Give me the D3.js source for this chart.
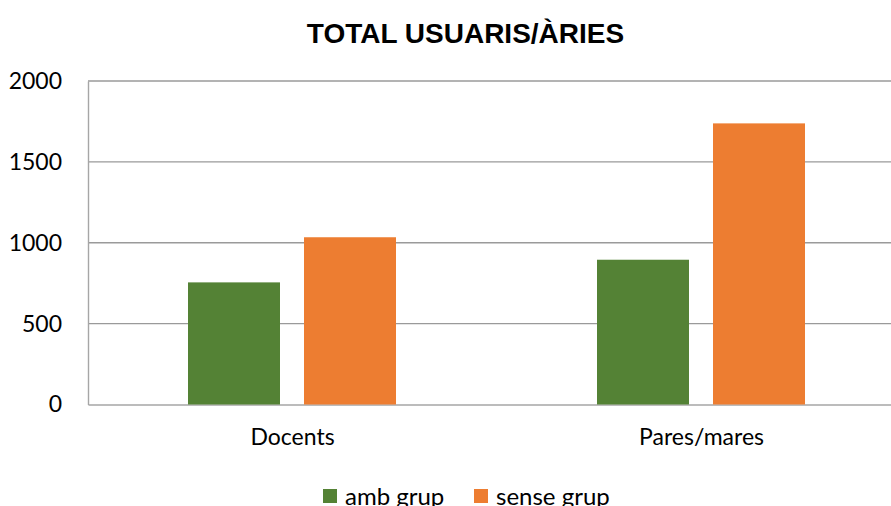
<!DOCTYPE html>
<html lang="ca">
<head>
	<meta charset="UTF-8" />
	<title>Total usuaris/àries</title>
	<script src="https://cdn.jsdelivr.net/npm/d3@7/dist/d3.min.js"></script>
	<style>
		body { margin: 0; background: #fff; }
		svg { display: block; }
	</style>
</head>
<body>
	<svg id="vis" width="891" height="506"></svg>
	<script>
		// Dades
		var categories = ["Docents", "Pares/mares"];
		var series = ["amb grup", "sense grup"];
		var ambGrup = [755, 895];
		var senseGrup = [1034, 1738];
		var yTicks = [0, 500, 1000, 1500, 2000];
		var colors = ["#548235", "#ED7D31"];

		var svg = d3.select("#vis");
		var plotLeft = 88, plotRight = 906, plotTop = 81, plotBottom = 404.5;

		// Echelles
		var x0 = d3.scaleBand().domain(categories).range([plotLeft, plotRight]);
		var x1 = d3.scaleBand().domain(series).range([0, 208]).paddingInner(0.207);
		var y = d3.scaleLinear().domain([0, 2000]).range([plotBottom, plotTop]);

		// Titre
		svg.append("text")
			.attr("x", 465.5)
			.attr("y", 43)
			.attr("text-anchor", "middle")
			.style("font-family", "Liberation Sans, Arial, sans-serif")
			.style("font-weight", "bold")
			.style("font-size", "28px")
			.text("TOTAL USUARIS/ÀRIES");

		// Grille
		svg.append("g").selectAll("line")
			.data(yTicks.slice(1))
			.join("line")
			.attr("x1", plotLeft).attr("x2", plotRight)
			.attr("y1", function(d) { return y(d); })
			.attr("y2", function(d) { return y(d); })
			.attr("stroke", "#9a9a9a")
			.attr("stroke-width", 1.4);

		// Axe Y
		var yAxis = d3.axisLeft(y).tickValues(yTicks).tickFormat(d3.format("d")).tickSize(0).tickPadding(26);
		var gy = svg.append("g")
			.attr("transform", "translate(" + plotLeft + ",0)")
			.call(yAxis);
		gy.select(".domain").attr("stroke", "#a6a6a6").attr("stroke-width", 1.4);
		gy.selectAll("text")
			.style("font-family", "Lato, sans-serif")
			.style("font-size", "23px")
			.attr("fill", "#000");

		// Axe X
		var xAxis = d3.axisBottom(x0).tickSize(0).tickPadding(24);
		var gx = svg.append("g")
			.attr("transform", "translate(0," + plotBottom + ")")
			.call(xAxis);
		gx.select(".domain").attr("stroke", "#a6a6a6").attr("stroke-width", 1.4);
		gx.selectAll("text")
			.style("font-family", "Lato, sans-serif")
			.style("font-size", "23px")
			.attr("fill", "#000");

		// Barres
		var values = [ambGrup, senseGrup];
		for (var s = 0; s < series.length; s++) {
			svg.append("g").selectAll("rect")
				.data(categories)
				.join("rect")
				.attr("x", function(d) { return x0(d) + 100 + x1(series[s]); })
				.attr("y", function(d, i) { return y(values[s][i]); })
				.attr("width", x1.bandwidth())
				.attr("height", function(d, i) { return plotBottom - y(values[s][i]); })
				.attr("fill", colors[s]);
		}

		// Légende
		var legendX = [323, 474];
		var legend = svg.append("g");
		for (var k = 0; k < series.length; k++) {
			legend.append("rect")
				.attr("x", legendX[k]).attr("y", 489)
				.attr("width", 14).attr("height", 14)
				.attr("fill", colors[k]);
			legend.append("text")
				.attr("x", legendX[k] + 22).attr("y", 505)
				.style("font-family", "Lato, sans-serif")
				.style("font-size", "24px")
				.text(series[k]);
		}
	</script>
</body>
</html>
